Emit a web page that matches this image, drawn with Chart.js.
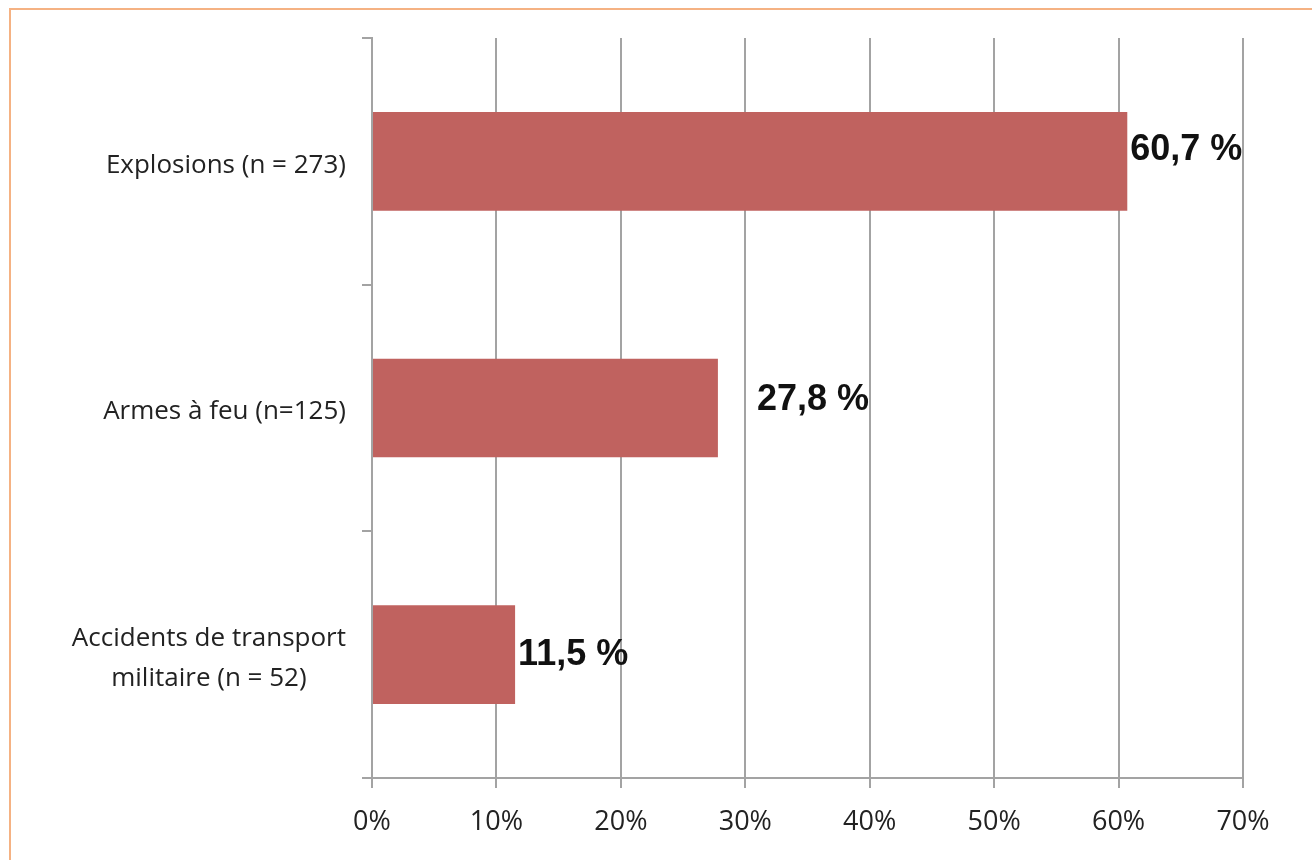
<!DOCTYPE html>
<html>
<head>
<meta charset="utf-8">
<script src="https://cdn.jsdelivr.net/npm/chart.js@4.4.1/dist/chart.umd.min.js"></script>
<style>
  html, body { margin: 0; padding: 0; background: #fff; }
  #frame { position: absolute; left: 9px; top: 8px; width: 1320px; height: 860px; border-left: 2px solid #f5b283; border-top: 2px solid #f5b283; box-sizing: border-box; pointer-events: none; }
  #wrap { position: absolute; left: 0; top: 0; width: 1312px; height: 860px; }
</style>
</head>
<body>
<div id="wrap"><canvas id="c" width="1312" height="860"></canvas></div>
<div id="frame"></div>
<script>
const categories = [
  "Explosions (n = 273)",
  "Armes à feu (n=125)",
  ["Accidents de transport", "militaire (n = 52)"]
];
const values = [60.7, 27.8, 11.5];
const valueLabels = ["60,7 %", "27,8 %", "11,5 %"];
const xTicks = [0, 10, 20, 30, 40, 50, 60, 70];

const labelShift = [{dx: 3, dy: -11}, {dx: 39, dy: -8}, {dx: 3, dy: 0}];

const valueLabelPlugin = {
  id: 'valueLabels',
  afterDatasetsDraw(chart) {
    const ctx = chart.ctx;
    const meta = chart.getDatasetMeta(0);
    ctx.save();
    ctx.font = 'bold 36px "Liberation Sans", Arial, sans-serif';
    ctx.fillStyle = '#111';
    ctx.textAlign = 'left';
    ctx.textBaseline = 'middle';
    meta.data.forEach((bar, i) => {
      const s = labelShift[i];
      ctx.fillText(valueLabels[i], bar.x + s.dx, bar.y + s.dy);
    });
    ctx.restore();
  }
};

// Category labels: block right-aligned to the axis, lines centred within the block
const categoryLabelPlugin = {
  id: 'categoryLabels',
  afterDraw(chart) {
    const ctx = chart.ctx;
    const y = chart.scales.y;
    const lineH = 40;
    ctx.save();
    ctx.font = '26px "Open Sans", sans-serif';
    ctx.fillStyle = '#222';
    ctx.textAlign = 'center';
    ctx.textBaseline = 'middle';
    const right = y.right - 26;
    categories.forEach((lab, i) => {
      const lines = Array.isArray(lab) ? lab : [lab];
      const w = Math.max(...lines.map(l => ctx.measureText(l).width));
      const cx = right - w / 2;
      const cy = y.getPixelForTick(i) + 4;
      lines.forEach((l, j) => {
        ctx.fillText(l, cx, cy + (j - (lines.length - 1) / 2) * lineH);
      });
    });
    ctx.restore();
  }
};

const gridColor = '#a3a3a3';

new Chart(document.getElementById('c'), {
  type: 'bar',
  data: {
    labels: categories,
    datasets: [{
      data: values,
      backgroundColor: '#c0625f',
      borderWidth: 0,
      barPercentage: 0.4,
      categoryPercentage: 1.0
    }]
  },
  options: {
    indexAxis: 'y',
    responsive: false,
    animation: false,
    devicePixelRatio: 1,
    layout: { padding: { top: 38, right: 69, bottom: 0, left: 0 } },
    plugins: { legend: { display: false }, tooltip: { enabled: false } },
    scales: {
      x: {
        min: 0, max: 70,
        afterBuildTicks(scale) { scale.ticks = xTicks.map(v => ({ value: v })); },
        afterFit(scale) { scale.height = 82; scale.paddingLeft = 0; scale.paddingRight = 0; },
        grid: { color: gridColor, lineWidth: 2, tickLength: 10, drawOnChartArea: true },
        border: { display: true, color: gridColor, width: 2 },
        ticks: {
          padding: 18,
          color: '#222',
          font: { family: '"Open Sans", sans-serif', size: 27 },
          callback: (v) => v + '%',
          maxRotation: 0
        }
      },
      y: {
        afterFit(scale) { scale.width = 372; scale.paddingTop = 0; scale.paddingBottom = 0; },
        grid: { color: gridColor, lineWidth: 2, tickLength: 10, drawOnChartArea: false, offset: true },
        border: { display: true, color: gridColor, width: 2 },
        ticks: { display: false }
      }
    }
  },
  plugins: [valueLabelPlugin, categoryLabelPlugin]
});
</script>
</body>
</html>
